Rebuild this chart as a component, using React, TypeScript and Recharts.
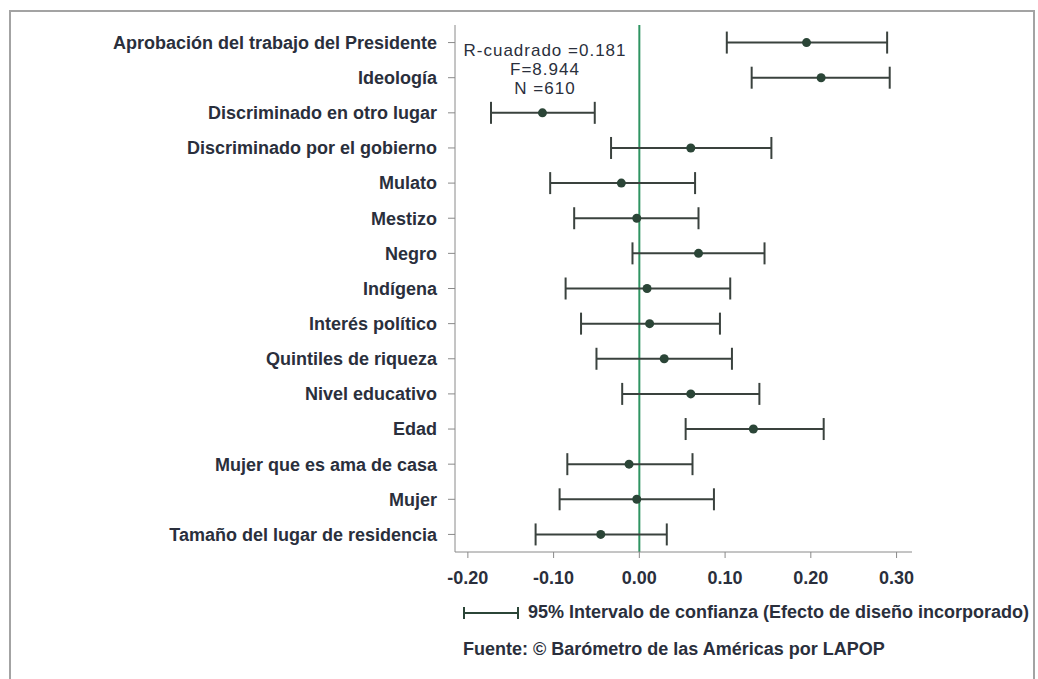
import React from 'react';
import { ScatterChart, Scatter, XAxis, YAxis, ErrorBar, ReferenceLine } from 'recharts';

const labels = [
  'Aprobación del trabajo del Presidente',
  'Ideología',
  'Discriminado en otro lugar',
  'Discriminado por el gobierno',
  'Mulato',
  'Mestizo',
  'Negro',
  'Indígena',
  'Interés político',
  'Quintiles de riqueza',
  'Nivel educativo',
  'Edad',
  'Mujer que es ama de casa',
  'Mujer',
  'Tamaño del lugar de residencia',
];
const coef = [0.195, 0.212, -0.113, 0.060, -0.021, -0.003, 0.069, 0.009, 0.012, 0.029, 0.060, 0.133, -0.012, -0.003, -0.045];
const lower = [0.102, 0.131, -0.173, -0.033, -0.104, -0.076, -0.008, -0.086, -0.068, -0.050, -0.020, 0.054, -0.084, -0.093, -0.121];
const upper = [0.289, 0.292, -0.052, 0.154, 0.065, 0.069, 0.146, 0.106, 0.094, 0.108, 0.140, 0.215, 0.062, 0.087, 0.032];
const xTicks = [-0.2, -0.1, 0, 0.1, 0.2, 0.3];
const statLines = ['R-cuadrado =0.181', 'F=8.944', 'N =610'];
const legendText = '95% Intervalo de confianza (Efecto de diseño incorporado)';
const sourceText = 'Fuente: © Barómetro de las Américas por LAPOP';

const data = labels.map((name, i) => ({
  name,
  row: i + 1,
  coef: coef[i],
  err: [coef[i] - lower[i], upper[i] - coef[i]],
}));
const rowTicks = labels.map((_, i) => i + 1);

const FONT = '"Liberation Sans", Arial, sans-serif';
const TEXT = '#2a2f3c';

const Dot = (props: any) => {
  const { cx, cy } = props;
  if (cx == null || cy == null) return null;
  return <circle cx={cx} cy={cy} r={4.5} fill="#2b4537" />;
};

export default function App() {
  return (
    <div style={{ position: 'absolute', left: 0, top: 0, width: 1038, height: 679, overflow: 'hidden', background: '#fff', fontFamily: FONT }}>
      <div style={{ position: 'absolute', left: 9, top: 10, width: 1026, height: 700, border: '2px solid #a3a3a3', boxSizing: 'border-box' }} />
      <div style={{ position: 'absolute', left: 0, top: 0 }}>
        <ScatterChart width={1038} height={679} margin={{ top: 25, right: 126, bottom: 97, left: 10 }}>
          <XAxis
            type="number"
            dataKey="coef"
            domain={[-0.215, 0.318]}
            allowDataOverflow
            ticks={xTicks}
            tickFormatter={(v: number) => v.toFixed(2)}
            height={30}
            tickSize={6}
            tickMargin={13}
            stroke="#8a8a8a"
            tick={{ fill: TEXT, fontSize: 18, fontWeight: 'bold', fontFamily: FONT }}
          />
          <YAxis
            type="number"
            dataKey="row"
            domain={[0.5, 15.5]}
            reversed
            ticks={rowTicks}
            interval={0}
            tickFormatter={(v: number) => labels[v - 1]}
            width={445}
            tickSize={7}
            tickMargin={11}
            stroke="#8a8a8a"
            tick={{ fill: TEXT, fontSize: 18, fontWeight: 'bold', fontFamily: FONT }}
          />
          <ReferenceLine x={0} stroke="#2f9462" strokeWidth={2} />
          <Scatter data={data} shape={<Dot />} isAnimationActive={false}>
            <ErrorBar dataKey="err" direction="x" width={11} stroke="#3a423e" strokeWidth={2} isAnimationActive={false} />
          </Scatter>
        </ScatterChart>
      </div>
      <div style={{ position: 'absolute', left: 445, top: 41, width: 200, textAlign: 'center', color: TEXT, fontSize: 17, letterSpacing: 1, lineHeight: '19px' }}>
        {statLines.map((s) => (
          <div key={s}>{s}</div>
        ))}
      </div>
      <div style={{ position: 'absolute', left: 463, top: 602, display: 'flex', alignItems: 'center', color: TEXT, fontSize: 18, fontWeight: 'bold', whiteSpace: 'nowrap' }}>
        <svg width={56} height={14} style={{ marginRight: 9 }}>
          <line x1={1} y1={7} x2={55} y2={7} stroke="#2b4537" strokeWidth={2} />
          <line x1={1} y1={1} x2={1} y2={13} stroke="#2b4537" strokeWidth={2} />
          <line x1={55} y1={1} x2={55} y2={13} stroke="#2b4537" strokeWidth={2} />
        </svg>
        <span>{legendText}</span>
      </div>
      <div style={{ position: 'absolute', left: 463, top: 639, color: TEXT, fontSize: 18, fontWeight: 'bold', whiteSpace: 'nowrap' }}>
        {sourceText}
      </div>
    </div>
  );
}
